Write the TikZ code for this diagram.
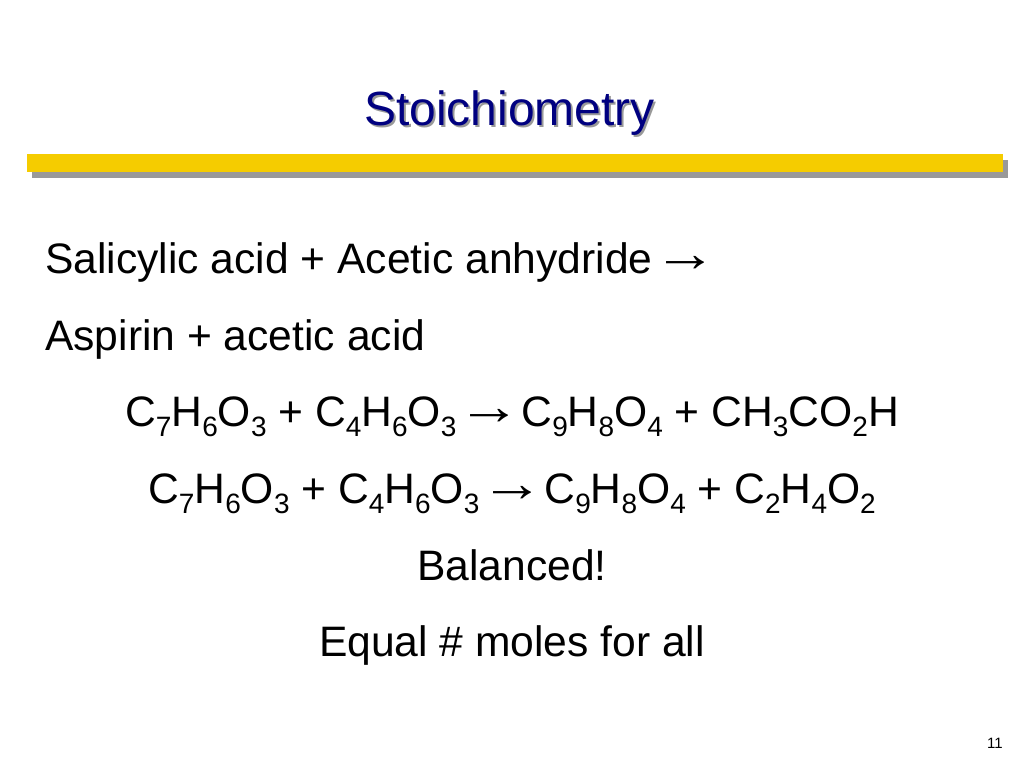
\documentclass[tikz,border=0pt]{standalone}
\usepackage{fontspec}
\setmainfont{Liberation Sans}
\usetikzlibrary{positioning}
\definecolor{titleblue}{HTML}{000080}
\definecolor{bargold}{HTML}{F5CC00}
\definecolor{shadowgrey}{HTML}{999999}
\newcommand{\subs}[1]{\raisebox{-0.25em}{\fontsize{28}{28}\selectfont #1}}
\newcommand{\rarrow}{\makebox[65pt]{\raisebox{1.4pt}{\scalebox{1.5}[1.25]{→}}}}
\begin{document}
\begin{tikzpicture}[x=1pt,y=-1pt,
  titletext/.style={inner sep=0pt, font=\fontsize{48}{54}\selectfont, text=titleblue},
  titleshadow/.style={inner sep=0pt, font=\fontsize{48}{54}\selectfont, text=shadowgrey},
  bodyline/.style={inner sep=0pt, font=\fontsize{42.6}{50}\selectfont, text=black},
  barbox/.style={inner sep=0pt, minimum width=976pt, minimum height=18pt, fill=bargold},
  barshadow/.style={inner sep=0pt, minimum width=976pt, minimum height=18pt, fill=shadowgrey}
]
  \useasboundingbox (0,0) rectangle (1024,768);
  % Title
  \node[titleshadow, anchor=base] (titleback) at (511.5,127) {Stoichiometry};
  \node[titletext, anchor=base] (title) at (509.5,125) {Stoichiometry};

  % Bar
  \node[barshadow, anchor=north west] (barback) at (32,160) {};
  \node[barbox, anchor=north west] (bar) at (27,154) {};

  % Body text
  \node[bodyline, anchor=base west] (reactwords) at (45,273) {Salicylic acid + Acetic anhydride\rarrow};
  \node[bodyline, anchor=base west] (prodwords) at (45,350) {Aspirin + acetic acid};
  \node[bodyline, anchor=base] (formulaone) at (512,426) {C\subs{7}H\subs{6}O\subs{3} + C\subs{4}H\subs{6}O\subs{3}\rarrow C\subs{9}H\subs{8}O\subs{4} + CH\subs{3}CO\subs{2}H};
  \node[bodyline, anchor=base] (formulatwo) at (512,503) {C\subs{7}H\subs{6}O\subs{3} + C\subs{4}H\subs{6}O\subs{3}\rarrow C\subs{9}H\subs{8}O\subs{4} + C\subs{2}H\subs{4}O\subs{2}};
  \node[bodyline, anchor=base] (balanced) at (512,580) {Balanced!};
  \node[bodyline, anchor=base] (moles) at (512,656) {Equal \# moles for all};

  % Page number
  \node[inner sep=0pt, anchor=base east, font=\fontsize{15}{17}\selectfont] (pagenum) at (1003,748) {11};
\end{tikzpicture}
\end{document}
